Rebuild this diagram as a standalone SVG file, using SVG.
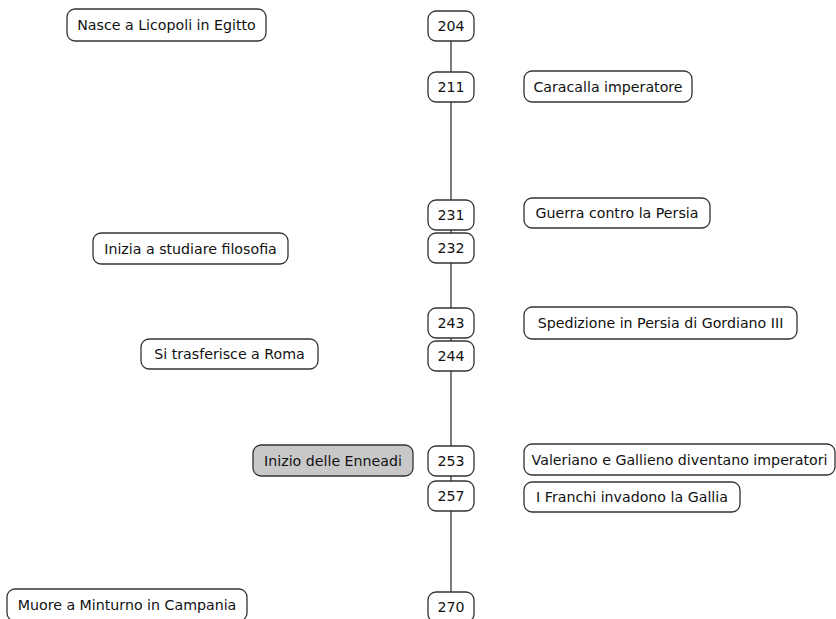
<svg xmlns="http://www.w3.org/2000/svg" width="836" height="619" viewBox="0 0 836 619">
<style>
rect{fill:#fff;stroke:#333;stroke-width:1.3}
.g rect{fill:#c8c8c8}
text{font-family:"DejaVu Sans",Verdana,sans-serif;font-size:14.2px;fill:#111;text-anchor:middle;dominant-baseline:central}
.c line{stroke:#222;stroke-width:1.2}
</style>
<rect x="0" y="0" width="836" height="619" style="fill:#fff;stroke:none"/>
<g class="c">
<line x1="451" y1="41" x2="451" y2="72"/>
<line x1="451" y1="102" x2="451" y2="200"/>
<line x1="451" y1="230" x2="451" y2="233"/>
<line x1="451" y1="263" x2="451" y2="308"/>
<line x1="451" y1="338" x2="451" y2="341"/>
<line x1="451" y1="371" x2="451" y2="446"/>
<line x1="451" y1="476" x2="451" y2="481"/>
<line x1="451" y1="511" x2="451" y2="592"/>
</g>
<g id="n204"><rect x="428" y="11" width="46" height="30" rx="8"/><text x="451" y="26">204</text></g>
<g id="n211"><rect x="428" y="72" width="46" height="30" rx="8"/><text x="451" y="87">211</text></g>
<g id="n231"><rect x="428" y="200" width="46" height="30" rx="8"/><text x="451" y="215">231</text></g>
<g id="n232"><rect x="428" y="233" width="46" height="30" rx="8"/><text x="451" y="248">232</text></g>
<g id="n243"><rect x="428" y="308" width="46" height="30" rx="8"/><text x="451" y="323">243</text></g>
<g id="n244"><rect x="428" y="341" width="46" height="30" rx="8"/><text x="451" y="356">244</text></g>
<g id="n253"><rect x="428" y="446" width="46" height="30" rx="8"/><text x="451" y="461">253</text></g>
<g id="n257"><rect x="428" y="481" width="46" height="30" rx="8"/><text x="451" y="496">257</text></g>
<g id="n270"><rect x="428" y="592" width="46" height="30" rx="8"/><text x="451" y="607">270</text></g>
<g id="e1"><rect x="67" y="9" width="199" height="32" rx="8"/><text x="166.5" y="25">Nasce a Licopoli in Egitto</text></g>
<g id="e2"><rect x="524" y="71" width="168" height="31" rx="8"/><text x="608" y="86.5">Caracalla imperatore</text></g>
<g id="e3"><rect x="524" y="198" width="186" height="30" rx="8"/><text x="617" y="213">Guerra contro la Persia</text></g>
<g id="e4"><rect x="93" y="233" width="195" height="31" rx="8"/><text x="190.5" y="248.5">Inizia a studiare filosofia</text></g>
<g id="e5"><rect x="524" y="307" width="273" height="32" rx="8"/><text x="660.5" y="323">Spedizione in Persia di Gordiano III</text></g>
<g id="e6"><rect x="141" y="339" width="177" height="30" rx="8"/><text x="229.5" y="354">Si trasferisce a Roma</text></g>
<g id="e7" class="g"><rect x="253" y="445" width="160" height="31" rx="8"/><text x="333" y="460.5">Inizio delle Enneadi</text></g>
<g id="e8"><rect x="524" y="444" width="311" height="31" rx="8"/><text x="679.5" y="459.5">Valeriano e Gallieno diventano imperatori</text></g>
<g id="e9"><rect x="524" y="482" width="216" height="30" rx="8"/><text x="632" y="497">I Franchi invadono la Gallia</text></g>
<g id="e10"><rect x="7" y="589" width="240" height="32" rx="8"/><text x="127" y="605">Muore a Minturno in Campania</text></g>
</svg>
